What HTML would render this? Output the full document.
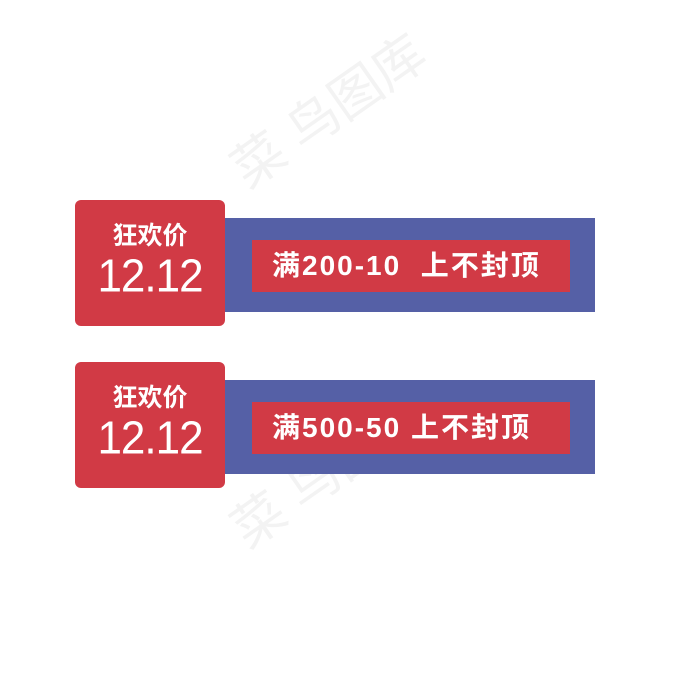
<!DOCTYPE html>
<html><head><meta charset="utf-8"><style>
body{margin:0;width:700px;height:700px;background:#fff;position:relative;overflow:hidden;font-family:"Liberation Sans","Noto Sans CJK SC",sans-serif}
.r{position:absolute;background:#d13a45;border-radius:6px;left:75px;width:150px;height:126px;color:#fff;text-align:center}
.r .a{position:absolute;top:16px;width:100%;font-size:25px;font-weight:bold}
.r .b{position:absolute;top:52px;width:100%;font-size:44px;letter-spacing:-1px;transform:scaleY(1.05)}
.bl{position:absolute;background:#5560a6;left:225px;width:370px;height:94px}
.in{position:absolute;left:252px;width:318px;height:52px;background:#d13a45;color:#fff;font-size:28px;font-weight:bold;line-height:52px;padding-left:20px;box-sizing:border-box;white-space:pre;letter-spacing:2px}
.wm{position:absolute;color:#f3f3f3;font-size:52px;transform:rotate(-35deg)}
</style></head><body>
<div class="wm" style="left:215px;top:70px">菜 鸟图库</div>
<div class="wm" style="left:215px;top:430px">菜 鸟图库</div>
<div class="bl" style="top:218px"></div>
<div class="in" style="top:240px">满200-10  上不封顶</div>
<div class="r" style="top:200px"><div class="a">狂欢价</div><div class="b">12.12</div></div>
<div class="bl" style="top:380px"></div>
<div class="in" style="top:402px">满500-50 上不封顶</div>
<div class="r" style="top:362px"><div class="a">狂欢价</div><div class="b">12.12</div></div>
</body></html>
